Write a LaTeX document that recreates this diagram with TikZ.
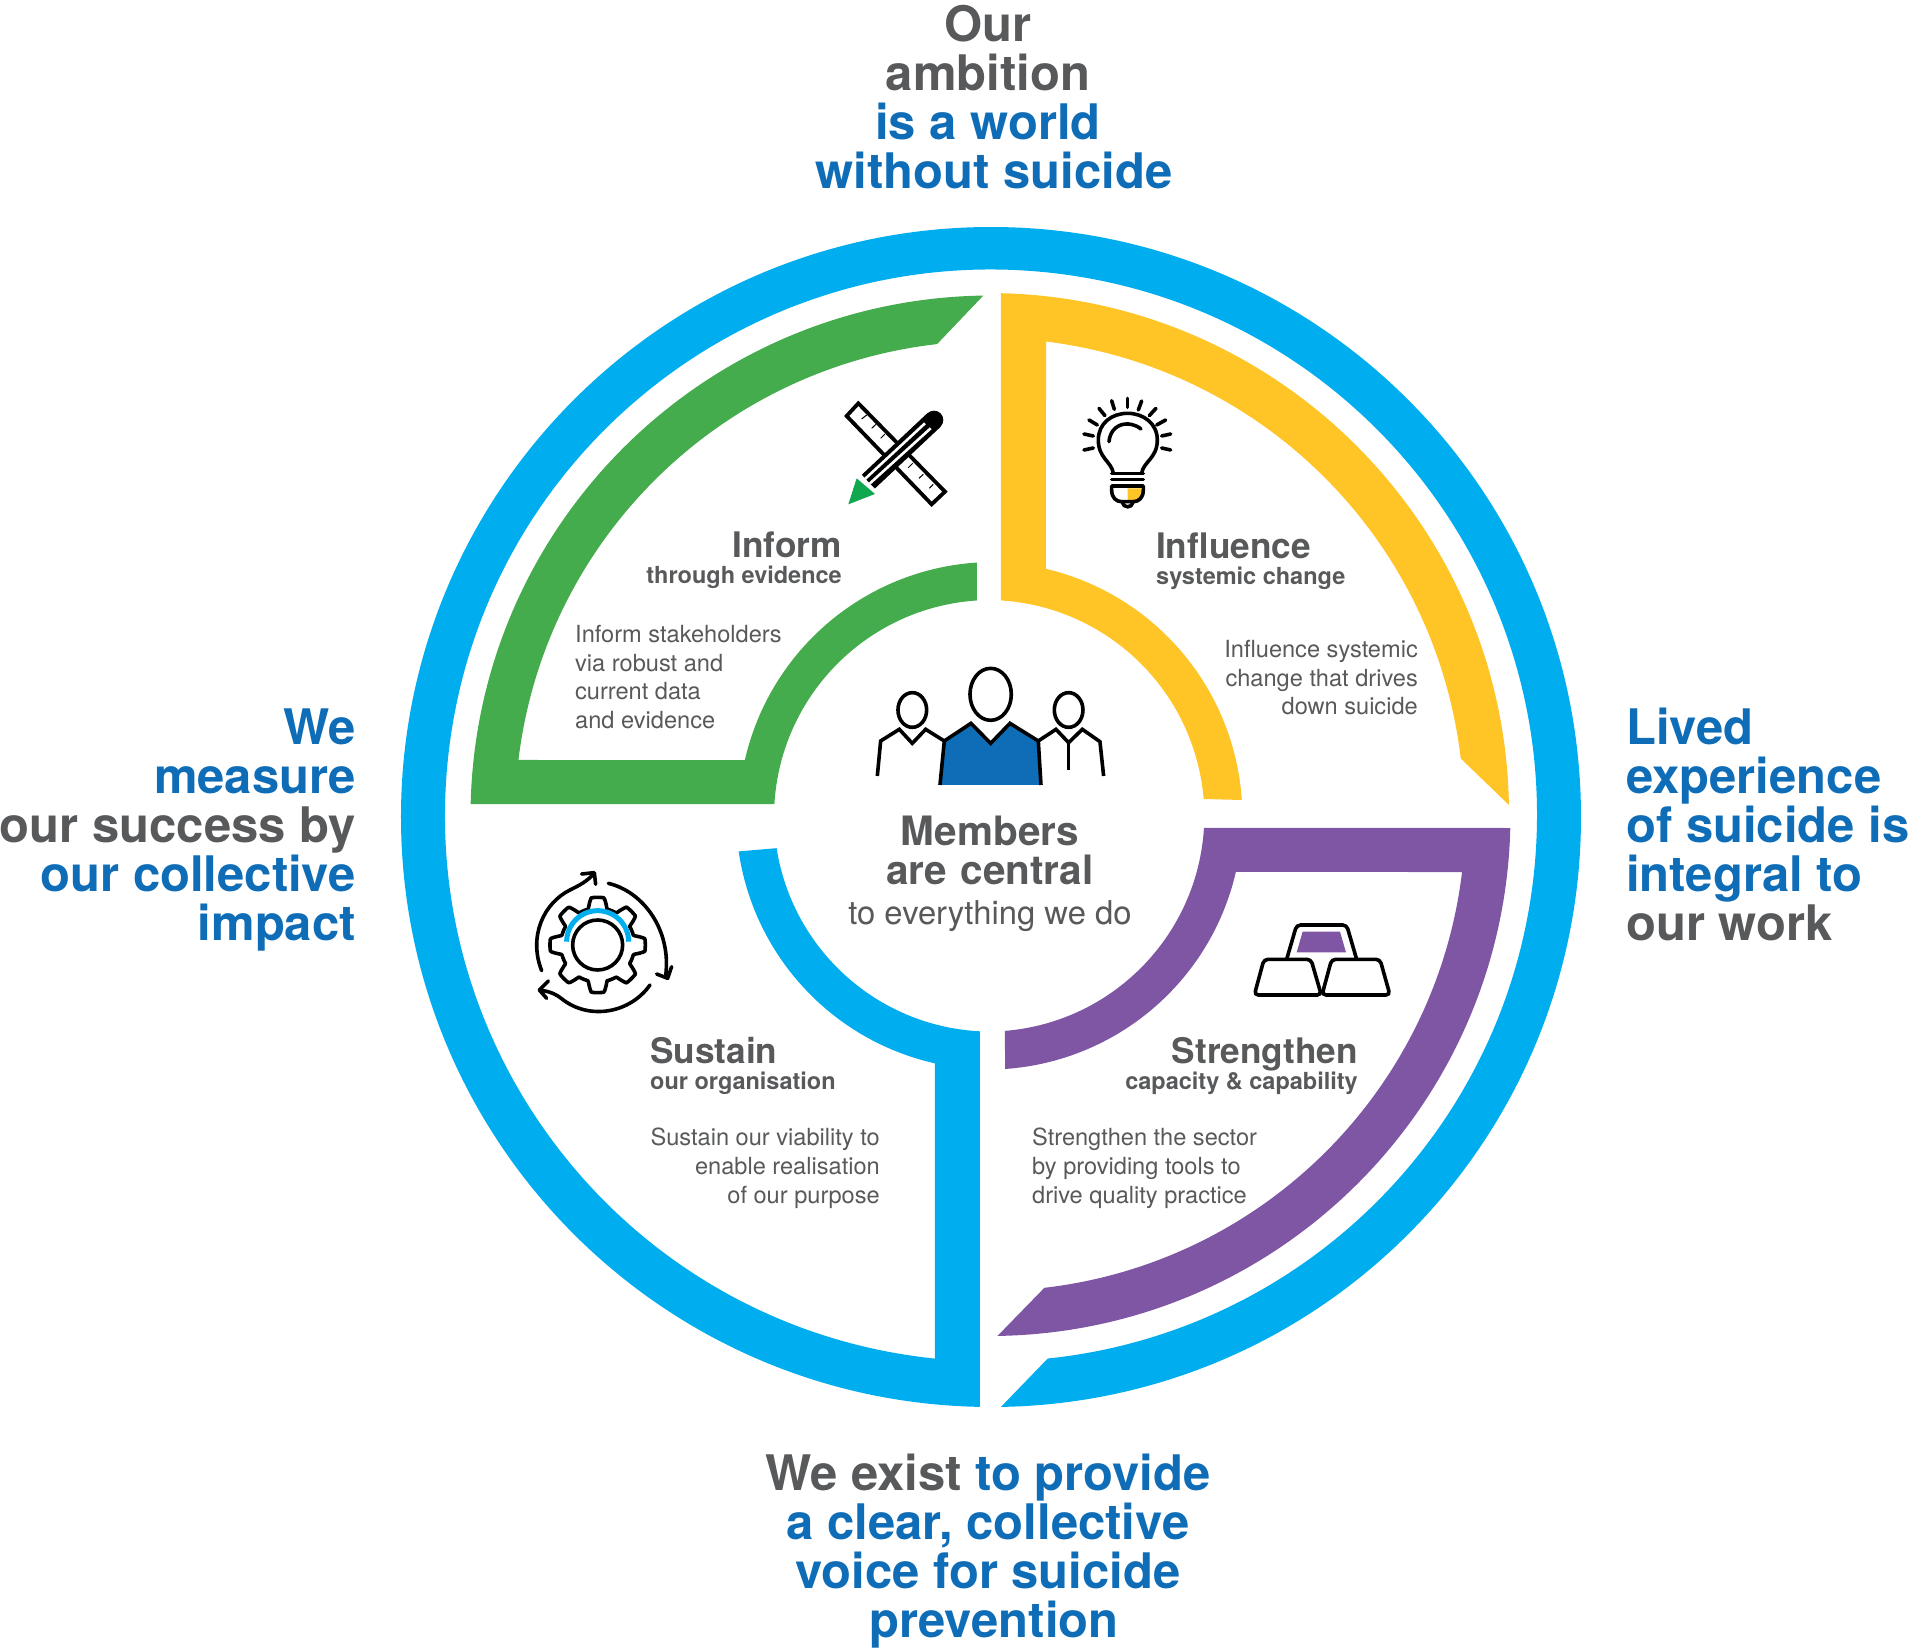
\documentclass[tikz,border=0pt]{standalone}
\usepackage{fontspec}
\setmainfont{TeX Gyre Heros}
\definecolor{ringblue}{HTML}{00AEEF}
\definecolor{darkblue}{HTML}{0E6DB6}
\definecolor{txtgrey}{HTML}{58595B}
\definecolor{informgreen}{HTML}{44AC4C}
\definecolor{tipgreen}{HTML}{10A84F}
\definecolor{influenceyellow}{HTML}{FFC425}
\definecolor{strengthenpurple}{HTML}{7F56A3}
\begin{document}
\begin{tikzpicture}[x=1pt, y=1pt,
	bigtext/.style={inner sep=0, text=darkblue, font=\bfseries\fontsize{49}{49}\selectfont},
	headtext/.style={inner sep=0, text=txtgrey, font=\bfseries\fontsize{35.2}{39}\selectfont},
	subtext/.style={inner sep=0, text=txtgrey, font=\bfseries\fontsize{23.5}{28}\selectfont},
	bodytext/.style={inner sep=0, text=txtgrey, font=\fontsize{23.6}{28.7}\selectfont},
	iconline/.style={line width=3.6pt, line join=round, line cap=round}]
	\useasboundingbox (-991,-830) rectangle (929,817);
	
	% outer ring and Sustain are one shape
	\fill[ringblue] (-89.03:590) arc[start angle=-89.03, end angle=268.93, radius=590]
		-- ([shift={(0,2.4)}]267.09:217) arc[start angle=267.09, end angle=188.9, radius=217]
		-- ([shift={(0,2.4)}]188.3:255) arc[start angle=188.3, end angle=257.31, radius=255]
		-- ([shift={(0,1.5)}]264.11:546) arc[start angle=264.11, end angle=-84.04, radius=546] -- cycle;
	
	% Inform
	\fill[informgreen] ([shift={(.5,.5)}]90.9:521) arc[start angle=90.9, end angle=178.63, radius=521]
		-- (176.57:217) arc[start angle=176.57, end angle=93.7, radius=217]
		-- ([shift={(2.4,0)}]93.69:255) arc[start angle=93.69, end angle=167.1, radius=255]
		-- (173.12:476) arc[start angle=173.12, end angle=96.5, radius=476] -- cycle;
	
	% Influence
	\fill[influenceyellow] ([shift={(-3,3)}]88.57:521) arc[start angle=88.57, end angle=1, radius=521]
		-- ([shift={(-3,3)}]6.7:476) arc[start angle=6.7, end angle=83, radius=476]
		-- ([shift={(-3.6,0)}]76.72:255) arc[start angle=76.72, end angle=3.82, radius=255]
		-- ([shift={(-3.6,0)}]4.76:217) arc[start angle=4.76, end angle=86.41, radius=217] -- cycle;
	
	% Strengthen
	\fill[strengthenpurple] ([shift={(-3.6,2.4)}]-3.54:217) -- ([shift={(-1.5,2)}]-1.43:521) arc[start angle=-1.43, end angle=-89.12, radius=521]
		-- ([shift={(-1.5,2)}]-83.38:476) arc[start angle=-83.38, end angle=-6.88, radius=476]
		-- ([shift={(-3.6,2.4)}]-13:255) arc[start angle=-13, end angle=-86, radius=255]
		-- ([shift={(-3.6,2.4)}]-85.4:217) arc[start angle=-85.4, end angle=-3.54, radius=217] -- cycle;
	
	% pencil and ruler
	\begin{scope}[shift={(-151,422)}, x=.3333pt, y=-.3333pt]
		\draw[line width=3.8pt, line join=miter] (55,25) -- (20,63) -- (275,328) -- (315,290) -- cycle;
		\foreach \a/\b/\c/\d in {80/60/65/72, 108/88/95/100, 135/117/122/130, 218/205/205/218, 250/238/237/250, 280/268/268/280}
		\draw[line width=1pt] (\a,\b) -- (\c,\d);
		\draw[black, line width=19pt] (85,260) -- (282,75);
		\fill[black] (282,75) circle (28);
		\draw[white, line width=2.6pt] (76,251) -- (255,85);
		\draw[white, line width=2.6pt] (90,265) -- (272,100);
		\fill[tipgreen] (50,250) -- (105,297) -- (25,328) -- cycle;
	\end{scope}
	
	% light bulb
	\begin{scope}[shift={(69,437)}, x=.3333pt, y=-.3333pt]
		\fill[influenceyellow] (203,325) -- (245,325) -- (245,335) .. controls (245,352) and (235,360) .. (220,360) -- (203,360) -- cycle;
		\draw[iconline] (160,280) .. controls (155,245) and (115,235) .. (115,180) .. controls (115,130) and (155,100) .. (203,100)
			.. controls (250,100) and (292,130) .. (292,180) .. controls (292,235) and (250,245) .. (245,280);
		\draw[iconline] (147,185) .. controls (150,150) and (175,130) .. (205,132) .. controls (220,133) and (235,140) .. (243,147);
		\draw[iconline] (155,280) -- (250,280);
		\draw[iconline] (155,298) -- (250,298);
		\draw[iconline] (155,318) -- (250,318) -- (250,330) .. controls (250,355) and (235,365) .. (220,365) -- (185,365)
			.. controls (170,365) and (155,355) .. (155,330) -- cycle;
		\draw[iconline] (187,367) .. controls (190,385) and (216,385) .. (219,367);
		\foreach \a/\b/\c/\d in {203/55/203/82, 155/62/163/88, 117/85/135/107, 87/120/112/135, 72/162/100/168, 72/210/100/204,
			245/63/235/90, 288/85/268/107, 317/120/290/135, 332/162/305/168, 332/210/305/204}
		\draw[iconline] (\a,\b) -- (\c,\d);
	\end{scope}
	
	% members
	\begin{scope}[shift={(-151,177)}, x=.3333pt, y=-.3333pt]
		\fill[darkblue] (300,435) -- (313,303) -- (393,250) -- (452,310) -- (510,250) -- (595,303) -- (603,435) -- cycle;
		\draw[line width=3.6pt, line join=miter] (300,435) -- (313,303) -- (393,250) -- (452,310) -- (510,250) -- (595,303) -- (603,435);
		\draw[line width=3.6pt] (452,163) ellipse (62 and 78);
		\draw[line width=3.6pt] (217,210) ellipse (43 and 52);
		\draw[line width=3.6pt] (686,210) ellipse (43 and 52);
		\draw[line width=3.6pt] (112,408) -- (122,303) -- (178,268) -- (217,310) -- (257,268) -- (313,303);
		\draw[line width=3.6pt] (595,303) -- (648,268) -- (686,308) -- (727,268) -- (780,305) -- (791,408);
		\draw[line width=3.6pt] (686,308) -- (686,390);
	\end{scope}
	
	% gear
	\begin{scope}[shift={(-491,-33)}, x=.3333pt, y=-.3333pt]
		\begin{scope}[shift={(293,285)}]
			\draw[iconline] plot[domain=0:360, samples=240, smooth] (\x:{127+min(16,max(-16,34*cos(8*\x)))}) -- cycle;
			\draw[iconline] (0,0) circle (75);
			\draw[ringblue, line width=5pt] (-93,-10) arc[start angle=180, end angle=360, radius=93] ;
		\end{scope}
		\draw[iconline] (325,100) .. controls (430,125) and (515,240) .. (497,378);
		\draw[iconline] (470,372) -- (503,385) -- (515,350);
		\draw[iconline] (450,405) .. controls (390,490) and (270,510) .. (190,450) .. controls (165,430) and (150,425) .. (118,420);
		\draw[iconline] (145,393) -- (118,420) -- (140,445);
		\draw[iconline] (125,362) .. controls (85,260) and (130,160) .. (210,120) .. controls (240,105) and (260,95) .. (283,70);
		\draw[iconline] (245,72) -- (283,68) -- (287,103);
	\end{scope}
	
	% gold bars
	\begin{scope}[shift={(249,-83)}, x=.3333pt, y=-.3333pt]
		\fill[strengthenpurple] (170,157) -- (188,95) -- (300,95) -- (318,157) -- cycle;
		\draw[line width=3.6pt, rounded corners=4pt] (140,178) -- (170,75) -- (320,75) -- (350,178);
		\draw[line width=3.6pt, rounded corners=4pt] (43,285) -- (72,178) -- (213,178) -- (244,285) -- cycle;
		\draw[line width=3.6pt, rounded corners=4pt] (246,285) -- (275,178) -- (420,178) -- (450,285) -- cycle;
	\end{scope}
	
	% all text at image pixels
	\begin{scope}[shift={(-991,817)}, y=-1pt]
		\node [bigtext, align=center, anchor=north] (ambition) at (988,5) {\textcolor{txtgrey}{Our}\\\textcolor{txtgrey}{ambition}\\is a world\\\hspace*{12pt}without suicide};
		\node [bigtext, align=right, anchor=north east] (measure) at (356,709) {We\\measure\\\textcolor{txtgrey}{our success by}\\our collective\\impact};
		\node [bigtext, align=left, anchor=north west] (lived) at (1626,708) {Lived\\experience\\of suicide is\\integral to\\\textcolor{txtgrey}{our work}};
		\node [bigtext, align=center, anchor=north] (exist) at (988,1454) {\textcolor{txtgrey}{We exist} to provide\\a clear, collective\\voice for suicide\\\hspace*{12pt}prevention};
		
		\node [headtext, text width=300pt, align=center, anchor=north, font=\bfseries\fontsize{40.5}{39}\selectfont] (members) at (990,816) {Members\\are central};
		\node [bodytext, anchor=base, font=\fontsize{32.8}{39}\selectfont] (everything) at (990,924) {to everything we do};
		
		\node [headtext, anchor=base east] (inform) at (842,558) {Inform};
		\node [subtext, anchor=base east] (informsub) at (842,584) {through evidence};
		\node [bodytext, align=left, anchor=north west] (informbody) at (575,625) {Inform stakeholders\\via robust and\\current data\\and evidence};
		
		\node [headtext, anchor=base west] (influence) at (1156,559) {Influence};
		\node [subtext, anchor=base west] (influencesub) at (1156,585) {systemic change};
		\node [bodytext, align=right, anchor=north east] (influencebody) at (1418,640) {Influence systemic\\change that drives\\down suicide};
		
		\node [headtext, anchor=base west] (sustain) at (650,1063) {Sustain};
		\node [subtext, anchor=base west] (sustainsub) at (650,1089) {our organisation};
		\node [bodytext, align=right, anchor=north east] (sustainbody) at (880,1128) {Sustain our viability to\\enable realisation\\of our purpose};
		
		\node [headtext, anchor=base east] (strengthen) at (1358,1063) {Strengthen};
		\node [subtext, anchor=base east] (strengthensub) at (1358,1089) {capacity \& capability};
		\node [bodytext, align=left, anchor=north west] (strengthenbody) at (1032,1128) {Strengthen the sector\\by providing tools to\\drive quality practice};
	\end{scope}
\end{tikzpicture}
\end{document}
